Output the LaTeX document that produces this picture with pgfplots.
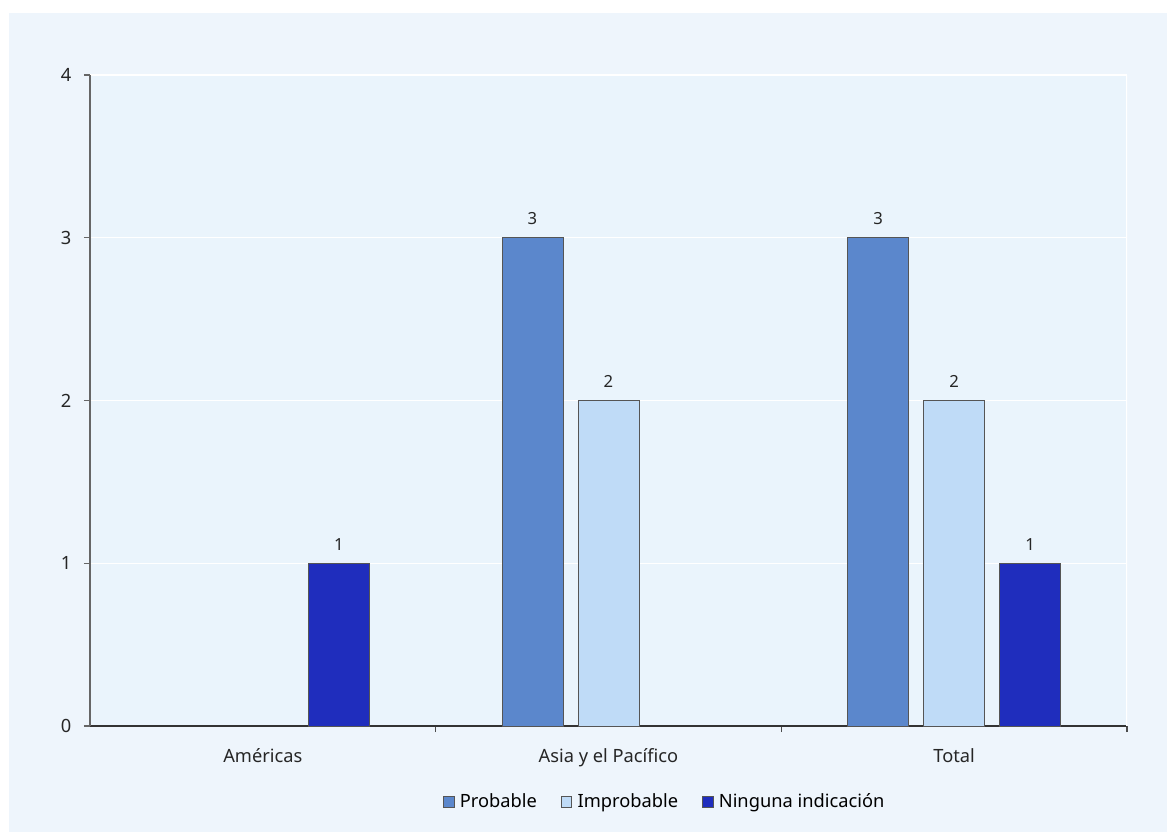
\documentclass[border=0pt]{standalone}
\usepackage{pgfplots}
\pgfplotsset{compat=1.18}
\usepackage{fontspec}
\setmainfont{Noto Sans}
\definecolor{panelbg}{HTML}{EEF5FC}
\definecolor{plotbg}{HTML}{EAF4FC}
\definecolor{cprob}{HTML}{5B87CC}
\definecolor{cimpr}{HTML}{BFDBF7}
\definecolor{cning}{HTML}{1F2DBD}
\definecolor{edge}{HTML}{555555}
\begin{document}
\begin{tikzpicture}
\fill[white] (-67.5pt,-79.5pt) rectangle (807.75pt,544.5pt);
\fill[panelbg] (-60.75pt,-79.5pt) rectangle (807.75pt,534.75pt);
\begin{axis}[
  at={(0,0)}, anchor=south west,
  scale only axis,
  width=777.75pt, height=488.25pt,
  xmin=-0.5, xmax=2.5, ymin=0, ymax=4,
  axis background/.style={fill=plotbg},
  axis x line*=bottom, axis y line*=left,
  x axis line style={draw=black!80, line width=0.8pt},
  y axis line style={draw=black!60, line width=0.8pt},
  xtick={0,1,2},
  xticklabels={Américas,Asia y el Pacífico,Total},
  major x tick style={draw=none},
  minor xtick={0.5,1.5,2.5},
  minor x tick style={draw=black!70, line width=0.8pt},
  minor tick length=4.5pt,
  ytick={0,1,2,3,4},
  major y tick style={draw=black!60, line width=0.8pt},
  major tick length=4.5pt,
  tick align=outside,
  ymajorgrids,
  grid style={white, line width=0.8pt},
  tick label style={font=\fontsize{13.7}{15}\selectfont, text=black!85},
  xticklabel style={yshift=-9pt},
  yticklabel style={xshift=-6pt},
  /pgf/number format/assume math mode=true,
  ybar,
  bar width=45.75pt,
  nodes near coords,
  every node near coord/.append style={font=\fontsize{12.5}{14}\selectfont, text=black!85, yshift=6pt},
  legend style={at={(rel axis cs:0.5545,-0.1167)}, anchor=center, draw=none, fill=none,
    legend columns=3, font=\fontsize{13.7}{15}\selectfont,
    /tikz/every odd column/.append style={column sep=2pt},
    /tikz/every even column/.append style={column sep=16pt}},
  legend image code/.code={\draw[#1, draw=edge, line width=0.6pt] (0pt,-4pt) rectangle (8pt,4pt);},
  legend cell align=left,
]
\addplot[fill=cprob, draw=edge, line width=0.6pt, bar shift=-57pt] coordinates {(1,3) (2,3)};
\addlegendentry{Probable}
\addplot[fill=cimpr, draw=edge, line width=0.6pt, bar shift=0pt] coordinates {(1,2) (2,2)};
\addlegendentry{Improbable}
\addplot[fill=cning, draw=edge, line width=0.6pt, bar shift=57pt] coordinates {(0,1) (2,1)};
\addlegendentry{Ninguna indicación}
\draw[white, line width=0.8pt] (rel axis cs:1,0) -- (rel axis cs:1,1);
\end{axis}
\end{tikzpicture}
\end{document}
